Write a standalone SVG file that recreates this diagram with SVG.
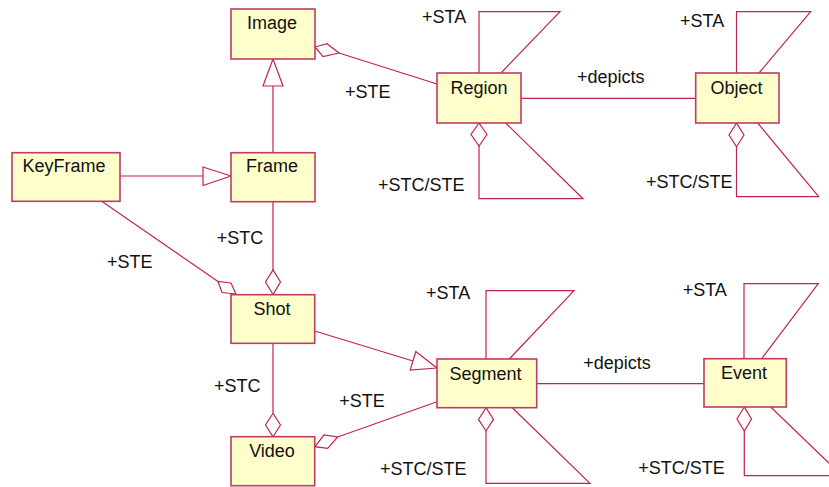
<svg xmlns="http://www.w3.org/2000/svg" width="829" height="487" viewBox="0 0 829 487">
<style>
.box{fill:#ffffcc;stroke:#c03a62;stroke-width:1.6}
.ln{fill:none;stroke:#c0234f;stroke-width:1.2}
.hd{fill:#ffffff;stroke:#c0234f;stroke-width:1.2}
text{font-family:"Liberation Sans",Arial,sans-serif;font-size:18px;fill:#111}
.c{text-anchor:middle}
</style>
<rect width="829" height="487" fill="#ffffff"/>
<g id="connectors">
  <!-- Image - Region aggregation -->
  <line class="ln" x1="339" y1="53" x2="437" y2="84"/>
  <polygon class="hd" points="315,47 327,43.7 339,53 323,56.7"/>
  <!-- Frame -> Image generalization -->
  <line class="ln" x1="273" y1="86" x2="273" y2="153"/>
  <polygon class="hd" points="273,59 263,86 283,86"/>
  <!-- KeyFrame -> Frame generalization -->
  <line class="ln" x1="120" y1="176" x2="203" y2="176"/>
  <polygon class="hd" points="231,176 203,167 203,185.5"/>
  <!-- KeyFrame - Shot aggregation -->
  <line class="ln" x1="101.7" y1="201.3" x2="218" y2="281.5"/>
  <polygon class="hd" points="236,294 222,292.5 218,281.5 231,283"/>
  <!-- Frame - Shot aggregation -->
  <line class="ln" x1="273" y1="201.5" x2="273" y2="270"/>
  <polygon class="hd" points="273,294.5 265.5,282 273,270 280.5,282"/>
  <!-- Shot -> Segment generalization -->
  <line class="ln" x1="314.7" y1="331" x2="413" y2="361"/>
  <polygon class="hd" points="437,368 410.2,370 415.8,351.5"/>
  <!-- Shot - Video aggregation -->
  <line class="ln" x1="273" y1="343.3" x2="273" y2="413.3"/>
  <polygon class="hd" points="273,436.7 265.5,425 273,413.3 280.5,425"/>
  <!-- Segment - Video aggregation -->
  <line class="ln" x1="437" y1="401.7" x2="337.7" y2="437"/>
  <polygon class="hd" points="315,446.7 324,435 337.7,437 327.7,448.3"/>
  <!-- Region - Object depicts -->
  <line class="ln" x1="521" y1="98.3" x2="695.7" y2="98.3"/>
  <!-- Segment - Event depicts -->
  <line class="ln" x1="536.7" y1="383.7" x2="704" y2="383.7"/>
  <!-- Region self loops -->
  <polyline class="ln" points="479,73 479,11.7 560,11.7 501,73"/>
  <polygon class="hd" points="479,123 471,134.5 479,146 487,134.5"/>
  <polyline class="ln" points="479,146 479,198.7 583,198.7 505.7,123"/>
  <!-- Object self loops -->
  <polyline class="ln" points="736.5,73 736.5,11.7 810.7,11.7 759,73"/>
  <polygon class="hd" points="736.5,123 729,135 736.5,146.7 744,135"/>
  <polyline class="ln" points="736.5,146.7 736.5,196.7 818.7,196.7 757.7,123"/>
  <!-- Segment self loops -->
  <polyline class="ln" points="486,359 486,290.7 574,290.7 509.3,359"/>
  <polygon class="hd" points="486,407.7 478.5,419.4 486,431 493.5,419.4"/>
  <polyline class="ln" points="486,431 486,483.3 590,483.3 512.3,407.7"/>
  <!-- Event self loops -->
  <polyline class="ln" points="744,358.7 744,283.7 818.3,283.7 761.7,358.7"/>
  <polygon class="hd" points="744.3,407 737,419 744.3,431 751.5,419"/>
  <polyline class="ln" points="744.3,431 744.3,475.7 842,475.7 770.7,407"/>
</g>
<g id="labels">
  <text x="345" y="98">+STE</text>
  <text x="422" y="23">+STA</text>
  <text x="378" y="191">+STC/STE</text>
  <text x="577" y="83">+depicts</text>
  <text x="680" y="27">+STA</text>
  <text x="646" y="188">+STC/STE</text>
  <text x="216.7" y="243.5">+STC</text>
  <text x="107" y="268">+STE</text>
  <text x="214" y="392">+STC</text>
  <text x="339.3" y="407">+STE</text>
  <text x="426" y="299">+STA</text>
  <text x="380" y="474.5">+STC/STE</text>
  <text x="583.3" y="369">+depicts</text>
  <text x="682.7" y="296">+STA</text>
  <text x="638.3" y="473.5">+STC/STE</text>
</g>
<g id="Image"><rect class="box" x="231" y="9" width="84" height="50"/><text class="c" x="272" y="29">Image</text></g>
<g id="Frame"><rect class="box" x="231" y="152.7" width="84" height="49"/><text class="c" x="272" y="172">Frame</text></g>
<g id="Region"><rect class="box" x="437" y="73" width="84" height="50"/><text class="c" x="479" y="94">Region</text></g>
<g id="Object"><rect class="box" x="695.7" y="73" width="83.3" height="50"/><text class="c" x="736.5" y="94">Object</text></g>
<g id="KeyFrame"><rect class="box" x="12" y="152.7" width="108" height="48.6"/><text class="c" x="64" y="172">KeyFrame</text></g>
<g id="Shot"><rect class="box" x="231" y="294.7" width="83.7" height="48.6"/><text class="c" x="272" y="315">Shot</text></g>
<g id="Video"><rect class="box" x="231" y="436.7" width="83.7" height="49"/><text class="c" x="272" y="457">Video</text></g>
<g id="Segment"><rect class="box" x="437" y="359" width="99.7" height="48.7"/><text class="c" x="485.5" y="379.5">Segment</text></g>
<g id="Event"><rect class="box" x="704" y="358.7" width="82.3" height="48.3"/><text class="c" x="744" y="379">Event</text></g>
</svg>
